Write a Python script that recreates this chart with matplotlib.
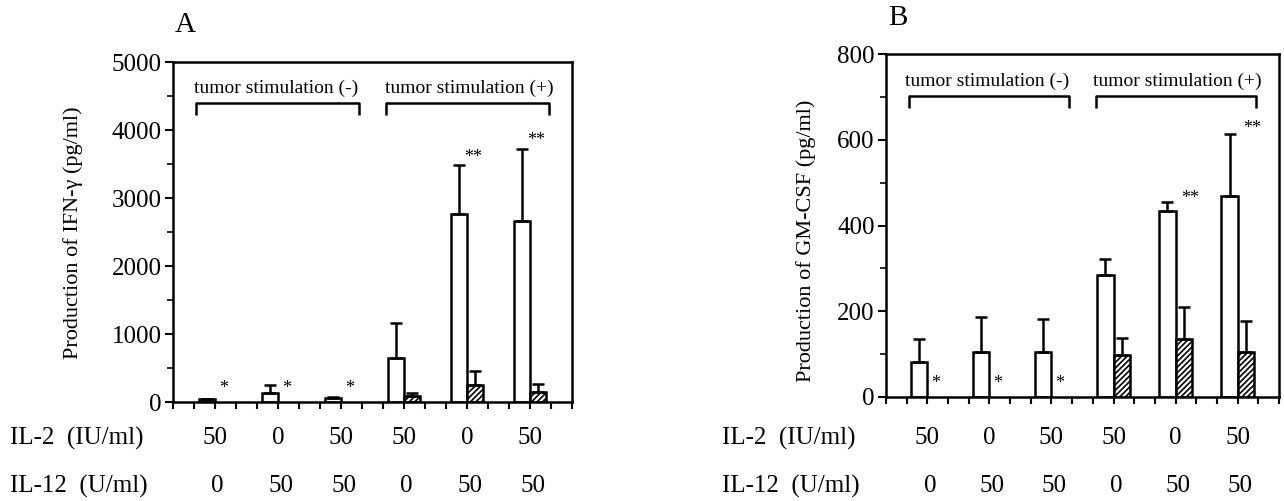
import numpy as np
import matplotlib
matplotlib.use("Agg")
import matplotlib.pyplot as plt
from matplotlib.ticker import MultipleLocator, NullFormatter

plt.rcParams['font.family'] = ['Liberation Serif', 'DejaVu Serif']
plt.rcParams['hatch.linewidth'] = 1.2

# Data
il2 = ["50", "0", "50", "50", "0", "50"]
il12 = ["0", "50", "50", "0", "50", "50"]

# Panel A: IFN-gamma (pg/ml)
ifn_open = [40, 130, 55, 650, 2760, 2660]
ifn_open_err = [10, 120, 20, 510, 730, 1060]
ifn_hatch = [0, 0, 0, 90, 250, 150]
ifn_hatch_err = [0, 0, 0, 45, 210, 110]

# Panel B: GM-CSF (pg/ml)
gm_open = [82, 106, 105, 284, 434, 469]
gm_open_err = [53, 80, 77, 37, 20, 144]
gm_hatch = [0, 0, 0, 98, 135, 105]
gm_hatch_err = [0, 0, 0, 40, 75, 72]

fig = plt.figure(figsize=(12.84, 5.01), dpi=100)
axA = fig.add_axes([0.1347, 0.1976, 0.3108, 0.6786])
axB = fig.add_axes([0.6900, 0.2076, 0.3061, 0.6846])

centers = np.arange(6) * 3 + 2
w = 0.78


def draw_panel(ax, vopen, eopen, vhatch, ehatch, ymax, major, star_off,
               dstar_pos, bracket_y, bracket_drop, text_y):
    ax.bar(centers - w / 2, vopen, w, color='white', edgecolor='black',
           linewidth=1.8, zorder=2)
    ax.errorbar(centers - w / 2, vopen, yerr=[np.zeros(6), eopen], fmt='none',
                ecolor='black', elinewidth=1.8, capsize=4, capthick=1.8, zorder=3)
    hx = centers + w / 2
    ax.bar(hx[3:], vhatch[3:], w, color='white', edgecolor='black',
           hatch='//////', linewidth=1.8, zorder=2)
    ax.errorbar(hx[3:], vhatch[3:], yerr=[np.zeros(3), ehatch[3:]], fmt='none',
                ecolor='black', elinewidth=1.8, capsize=4, capthick=1.8, zorder=3)
    # single stars where no hatched bar
    for x in hx[:3]:
        ax.text(x, star_off, '*', ha='center', va='bottom', fontsize=13)
    for (x, y) in dstar_pos:
        ax.text(x, y, '**', ha='center', va='center', fontsize=13)
    # group brackets
    for (x0, x1, tx, lab) in [(1.1, 8.85, 4.9, 'tumor stimulation (-)'),
                              (10.15, 17.9, 14.1, 'tumor stimulation (+)')]:
        ax.plot([x0, x0, x1, x1], [bracket_y - bracket_drop, bracket_y,
                                   bracket_y, bracket_y - bracket_drop],
                color='black', linewidth=1.8, solid_capstyle='butt')
        ax.text(tx, text_y, lab, ha='center', va='center', fontsize=14)

    ax.set_xlim(0, 19)
    ax.set_ylim(0, ymax)
    ax.set_xticks(np.arange(0, 20))
    ax.xaxis.set_major_formatter(NullFormatter())
    ax.yaxis.set_major_locator(MultipleLocator(major))
    ax.yaxis.set_minor_locator(MultipleLocator(major / 2))
    ax.tick_params(axis='x', direction='out', length=5, width=1.5)
    ax.tick_params(axis='y', which='major', direction='out', length=6, width=1.5,
                   labelsize=18, pad=2)
    ax.tick_params(axis='y', which='minor', direction='out', length=4, width=1.2)
    for s in ax.spines.values():
        s.set_linewidth(1.8)


draw_panel(axA, ifn_open, ifn_open_err, ifn_hatch, ifn_hatch_err, 5000, 1000,
           70, [(14.3, 3600), (17.3, 3850)], 4400, 180, 4610)
draw_panel(axB, gm_open, gm_open_err, gm_hatch, gm_hatch_err, 800, 200,
           12, [(14.7, 464), (17.7, 627)], 702, 29, 737)

# y labels
fig.text(0.057, 0.535, 'Production of IFN-γ (pg/ml)', rotation=90,
         ha='center', va='center', fontsize=16)
fig.text(0.628, 0.52, 'Production of GM-CSF (pg/ml)', rotation=90,
         ha='center', va='center', fontsize=16)

# panel letters
fig.text(0.144, 0.95, 'A', ha='center', va='center', fontsize=21)
fig.text(0.699, 0.965, 'B', ha='center', va='center', fontsize=21)

# treatment rows under each panel
for ax, xlab in [(axA, 0.008), (axB, 0.562)]:
    fig.text(xlab, 1 - 438 / 501, 'IL-2  (IU/ml)', ha='left', va='center', fontsize=18)
    fig.text(xlab, 1 - 486 / 501, 'IL-12  (U/ml)', ha='left', va='center', fontsize=18)
    for c, a, b in zip(centers, il2, il12):
        xf = fig.transFigure.inverted().transform(ax.transData.transform((c, 0)))[0]
        fig.text(xf, 1 - 438 / 501, a, ha='center', va='center', fontsize=18)
        fig.text(xf + 0.002, 1 - 486 / 501, b, ha='center', va='center', fontsize=18)

fig.savefig('out.png', dpi=100)
